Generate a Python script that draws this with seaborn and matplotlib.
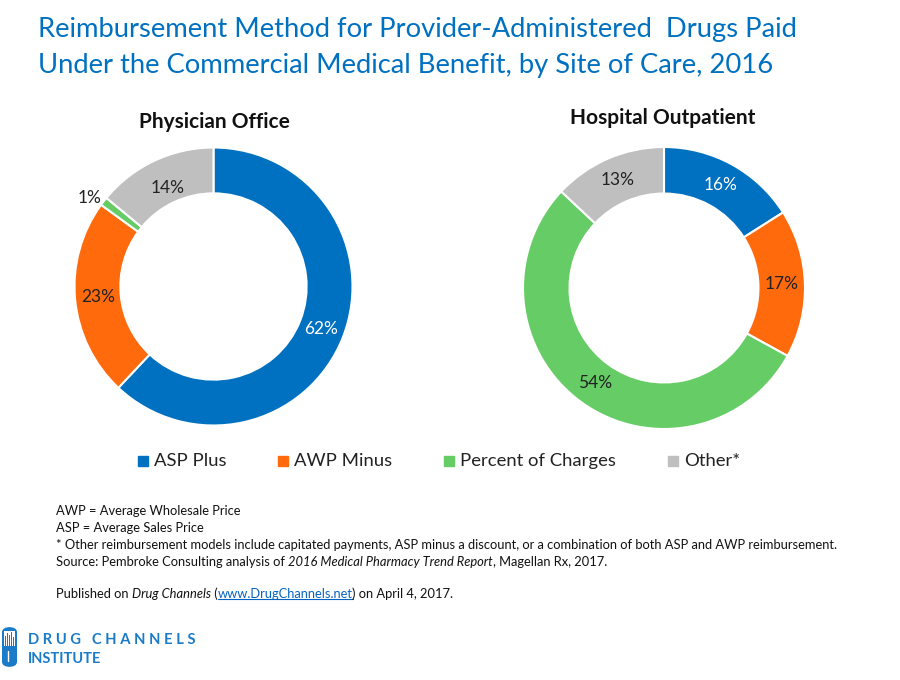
import matplotlib
matplotlib.use("Agg")
import matplotlib.pyplot as plt
import seaborn as sns
from matplotlib.patches import FancyBboxPatch

sns.set_theme(style="white")
plt.rcParams['font.family'] = ['Lato', 'DejaVu Sans']

# ---- data ----
categories = ["ASP Plus", "AWP Minus", "Percent of Charges", "Other*"]
physician_office = [62, 23, 1, 14]
hospital_outpatient = [16, 17, 54, 13]
panel_titles = ["Physician Office", "Hospital Outpatient"]
colors = ["#0070C0", "#FF6A0D", "#66CC66", "#BFBFBF"]
label_colors_po = ["white", "#222222", "#222222", "#222222"]
label_colors_ho = ["white", "#222222", "#222222", "#222222"]

title = ("Reimbursement Method for Provider-Administered  Drugs Paid\n"
         "Under the Commercial Medical Benefit, by Site of Care, 2016")
notes = [
    "AWP = Average Wholesale Price",
    "ASP = Average Sales Price",
    "* Other reimbursement models include capitated payments, ASP minus a discount, or a combination of both ASP and AWP reimbursement.",
]

W, H = 900, 680
fig = plt.figure(figsize=(W / 100, H / 100), dpi=100)
fig.patch.set_facecolor("white")

def px_axes(cx, cy, r):
    return fig.add_axes([(cx - r) / W, (H - cy - r) / H, 2 * r / W, 2 * r / H])

def donut(ax, values, lcolors):
    wedges, texts, autotexts = ax.pie(
        values, colors=colors, startangle=90, counterclock=False,
        radius=1.0, autopct=lambda p: f"{p:.0f}%", pctdistance=0.835,
        wedgeprops=dict(width=0.33, edgecolor="white", linewidth=1.5),
        textprops=dict(fontsize=12.5))
    for t, c in zip(autotexts, lcolors):
        t.set_color(c)
    ax.set_xlim(-1, 1)
    ax.set_ylim(-1, 1)
    ax.set_aspect("equal")
    ax.axis("off")
    return autotexts

ax1 = px_axes(213.5, 286.5, 139)
at1 = donut(ax1, physician_office, label_colors_po)
# small 1% slice: label sits outside the ring
at1[2].set_position((-0.89, 0.64))
# 14% sits a bit closer to the hole in the reference
x, y = at1[3].get_position()
at1[3].set_position((x * 0.92, y * 0.94))

ax2 = px_axes(664, 288, 141)
donut(ax2, hospital_outpatient, label_colors_ho)

fig.text(214 / W, 1 - 122 / H, panel_titles[0], ha="center", va="center",
         fontsize=15, fontweight="bold", color="#111111")
fig.text(663 / W, 1 - 118 / H, panel_titles[1], ha="center", va="center",
         fontsize=15, fontweight="bold", color="#111111")

# title
fig.text(38 / W, 1 - 48 / H, title, ha="left", va="center", fontsize=19.7,
         color="#0070C0", linespacing=1.55)

# legend
leg_x = [143, 283, 449, 673]
for xx, cat, col in zip(leg_x, categories, colors):
    fig.patches.append(plt.Rectangle(((xx - 5) / W, 1 - 466 / H), 10 / W, 10 / H,
                                     transform=fig.transFigure, color=col))
    fig.text((xx + 11) / W, 1 - 461 / H, cat, ha="left", va="center",
             fontsize=13.3, color="#222222")

# footnotes
fs = 9.3
for i, line in enumerate(notes):
    fig.text(56 / W, 1 - (511 + 17 * i) / H, line, ha="left", va="center",
             fontsize=fs, color="#111111")

fig.canvas.draw()
renderer = fig.canvas.get_renderer()

def run(pieces, x0, y0):
    x = x0
    for s, kw in pieces:
        t = fig.text(x / W, 1 - y0 / H, s, ha="left", va="center",
                     fontsize=fs, color=kw.get("color", "#111111"),
                     style=kw.get("style", "normal"))
        bb = t.get_window_extent(renderer)
        if kw.get("underline"):
            fig.lines.append(plt.Line2D([bb.x0 / W, bb.x1 / W],
                                        [(bb.y0 + 1) / H, (bb.y0 + 1) / H],
                                        transform=fig.transFigure,
                                        color=kw["color"], lw=0.8))
        x = bb.x1

run([("Source: Pembroke Consulting analysis of ", {}),
     ("2016 Medical Pharmacy Trend Report", {"style": "italic"}),
     (", Magellan Rx, 2017.", {})], 56, 562)
run([("Published on ", {}),
     ("Drug Channels", {"style": "italic"}),
     (" (", {}),
     ("www.DrugChannels.net", {"color": "#0563C1", "underline": True}),
     (") on April 4, 2017.", {})], 56, 594)

# logo
cap = FancyBboxPatch((2 / W, 1 - 667 / H), 15 / W, 40 / H,
                     boxstyle="round,pad=0,rounding_size=0.01",
                     transform=fig.transFigure, facecolor="#1A7CC9",
                     edgecolor="none", mutation_aspect=H / W)
fig.patches.append(cap)
fig.patches.append(plt.Rectangle((4 / W, 1 - 646 / H), 11 / W, 15 / H,
                                 transform=fig.transFigure, facecolor="white",
                                 edgecolor="none"))
for i, hgt in enumerate([10, 13, 11, 14, 9]):
    fig.patches.append(plt.Rectangle(((5 + 2 * i) / W, 1 - 646 / H), 1.2 / W, hgt / H,
                                     transform=fig.transFigure, facecolor="#1A7CC9",
                                     edgecolor="none"))
fig.lines.append(plt.Line2D([7.5 / W, 7.5 / W], [1 - 651 / H, 1 - 661 / H],
                            transform=fig.transFigure, color="white", lw=1))
fig.text(28 / W, 1 - 640 / H, "D R U G   C H A N N E L S", ha="left", va="center",
         fontsize=10.6, fontweight="bold", color="#1A7CC9")
fig.text(28 / W, 1 - 659 / H, "INSTITUTE", ha="left", va="center",
         fontsize=10.5, fontweight="bold", color="#1A7CC9")

fig.savefig("out.png", dpi=100, facecolor="white")
